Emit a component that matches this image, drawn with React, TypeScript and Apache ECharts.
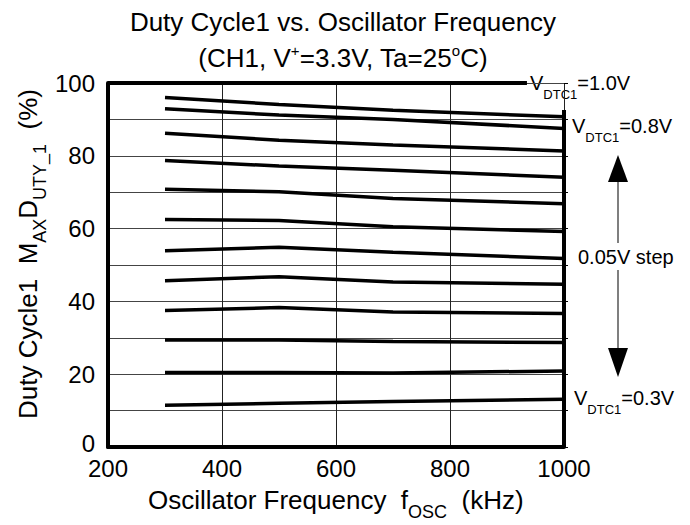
import React, { useEffect, useRef } from "react";
import * as echarts from "echarts";

// Oscillator frequency (kHz) at which each curve was sampled
const frequencies = [300, 500, 700, 1000];

// V_DTC1 settings, 0.05 V steps, top to bottom
const vdtcLevels = ["0.85V", "0.8V", "0.75V", "0.7V", "0.65V", "0.6V", "0.55V", "0.5V", "0.45V", "0.4V", "0.35V", "0.3V"];

// Maximum duty cycle (%) per curve, at the frequencies above
const duty085 = [96.0, 94.1, 92.5, 90.7];
const duty080 = [92.9, 91.2, 90.0, 87.5];
const duty075 = [86.2, 84.3, 83.0, 81.3];
const duty070 = [78.7, 77.2, 76.0, 74.1];
const duty065 = [70.8, 70.1, 68.3, 66.8];
const duty060 = [62.5, 62.2, 60.5, 59.2];
const duty055 = [53.9, 54.9, 53.5, 51.8];
const duty050 = [45.7, 46.8, 45.3, 44.7];
const duty045 = [37.5, 38.3, 37.1, 36.7];
const duty040 = [29.4, 29.4, 29.0, 28.7];
const duty035 = [20.5, 20.5, 20.3, 20.9];
const duty030 = [11.5, 12.0, 12.5, 13.1];

const dutyCurves = [duty085, duty080, duty075, duty070, duty065, duty060, duty055, duty050, duty045, duty040, duty035, duty030];

// V_DTC1 = 1.0V curve sits at 100% (drawn along the top of the frame)
const topCurveX = [200, 935];
const topCurveY = [100, 100];
// right frame edge (from 0% up to just below the 1.0V label)
const rightEdgeX = [1000, 1000];
const rightEdgeY = [0, 92.6];

const xTicks = [200, 400, 600, 800, 1000];
const yTickLabels = [0, 20, 40, 60, 80, 100];

const FONT = "'Liberation Sans', Arial, sans-serif";

function subRich(main: number, sub: number, shift: number) {
  const L = 2 * shift + 10;
  return {
    m: { fontSize: main, fontFamily: FONT, fill: "#000", lineHeight: L },
    s: { fontSize: sub, fontFamily: FONT, fill: "#000", lineHeight: L, height: 10, verticalAlign: "bottom" },
    p: { fontSize: sub, fontFamily: FONT, fill: "#000", lineHeight: L, height: 10, verticalAlign: "top" },
  };
}

export default function App() {
  const ref = useRef<HTMLDivElement>(null);

  useEffect(() => {
    document.body.style.margin = "0";
    if (!ref.current) return;
    const chart = echarts.init(ref.current, undefined, { renderer: "svg" });

    const curveSeries = dutyCurves.map((vals, i) => ({
      type: "line",
      name: "V_DTC1=" + vdtcLevels[i],
      data: frequencies.map((f, j) => [f, vals[j]]),
      symbol: "none",
      silent: true,
      lineStyle: { color: "#000", width: 3.5 },
      z: 3,
    }));

    const option: any = {
      animation: false,
      backgroundColor: "#fff",
      grid: { left: 108, right: 126, top: 83, bottom: 78, containLabel: false },
      xAxis: {
        type: "value",
        min: 200,
        max: 1000,
        interval: 200,
        axisLine: { show: true, onZero: false, lineStyle: { color: "#000", width: 4 } },
        axisTick: { show: false },
        axisLabel: {
          color: "#000",
          fontSize: 24,
          lineHeight: 18,
          fontFamily: FONT,
          margin: 12,
          formatter: (v: number) => (xTicks.includes(v) ? String(v) : ""),
        },
        splitLine: { show: true, lineStyle: { color: "#222", width: 1 } },
      },
      yAxis: [
        {
          type: "value",
          min: 0,
          max: 100,
          interval: 10,
          axisLine: { show: true, onZero: false, lineStyle: { color: "#000", width: 4 } },
          axisTick: { show: false },
          axisLabel: {
            color: "#000",
            fontSize: 24,
            lineHeight: 18,
            fontFamily: FONT,
            margin: 13,
            formatter: (v: number) =>
              v === 0 ? "{z|0}" : yTickLabels.includes(v) ? String(v) : "",
            rich: {
              z: { fontSize: 24, fontFamily: FONT, color: "#000", lineHeight: 18, padding: [0, 0, 8, 0] },
            },
          },
          splitLine: { show: true, lineStyle: { color: "#444", width: 1 } },
        },
        {
          type: "value",
          position: "right",
          min: 0,
          max: 100,
          interval: 10,
          axisLine: { show: false },
          axisTick: { show: true, inside: false, length: 4, lineStyle: { color: "#000", width: 1 } },
          axisLabel: { show: false },
          splitLine: { show: false },
        },
      ],
      series: [
        ...curveSeries,
        {
          type: "line",
          name: "V_DTC1=1.0V",
          data: topCurveX.map((x, i) => [x, topCurveY[i]]),
          symbol: "none",
          silent: true,
          clip: false,
          lineStyle: { color: "#000", width: 4 },
          z: 4,
        },
        {
          type: "line",
          name: "frame-right",
          data: rightEdgeX.map((x, i) => [x, rightEdgeY[i]]),
          symbol: "none",
          silent: true,
          clip: false,
          lineStyle: { color: "#000", width: 4 },
          z: 4,
        },
      ],
      graphic: [
        {
          type: "text",
          x: 343,
          y: 22,
          style: {
            text: "Duty Cycle1 vs. Oscillator Frequency",
            fontSize: 26,
            fontFamily: FONT,
            fill: "#000",
            align: "center",
            verticalAlign: "middle",
          },
        },
        {
          type: "text",
          x: 343,
          y: 58,
          style: {
            text: "{m|(CH1, V}{p|+}{m|=3.3V, Ta=25}{p|o}{m|C)}",
            rich: subRich(26, 15, 8),
            align: "center",
            verticalAlign: "middle",
          },
        },
        {
          type: "text",
          x: 148,
          y: 500,
          style: {
            text: "{m|Oscillator Frequency  f}{s|OSC}{m|  (kHz)}",
            rich: subRich(26, 18, 12),
            align: "left",
            verticalAlign: "middle",
          },
        },
        {
          type: "text",
          x: 28,
          y: 254,
          rotation: Math.PI / 2,
          style: {
            text: "{m|Duty Cycle1  M}{s|AX}{m|D}{s|UTY_1}{m|  (%)}",
            rich: subRich(26, 18, 12),
            align: "center",
            verticalAlign: "middle",
          },
        },
        {
          type: "text",
          x: 530,
          y: 83,
          style: {
            text: "{m|V}{s|DTC1}{m|=1.0V}",
            rich: subRich(20, 13, 11),
            align: "left",
            verticalAlign: "middle",
          },
        },
        {
          type: "text",
          x: 572,
          y: 126,
          style: {
            text: "{m|V}{s|DTC1}{m|=0.8V}",
            rich: subRich(20, 13, 11),
            align: "left",
            verticalAlign: "middle",
          },
        },
        {
          type: "text",
          x: 578,
          y: 257,
          style: {
            text: "0.05V step",
            fontSize: 20,
            fontFamily: FONT,
            fill: "#000",
            align: "left",
            verticalAlign: "middle",
          },
        },
        {
          type: "text",
          x: 574,
          y: 398,
          style: {
            text: "{m|V}{s|DTC1}{m|=0.3V}",
            rich: subRich(20, 13, 11),
            align: "left",
            verticalAlign: "middle",
          },
        },
        { type: "line", shape: { x1: 618, y1: 243, x2: 618, y2: 180 }, style: { stroke: "#555", lineWidth: 1.5 } },
        { type: "polygon", shape: { points: [[608, 182], [628, 182], [618, 155]] }, style: { fill: "#000" } },
        { type: "line", shape: { x1: 618, y1: 270, x2: 618, y2: 350 }, style: { stroke: "#555", lineWidth: 1.5 } },
        { type: "polygon", shape: { points: [[608, 348], [628, 348], [618, 377]] }, style: { fill: "#000" } },
      ],
    };

    chart.setOption(option);
    return () => chart.dispose();
  }, []);

  return <div ref={ref} style={{ width: 690, height: 525 }} />;
}
